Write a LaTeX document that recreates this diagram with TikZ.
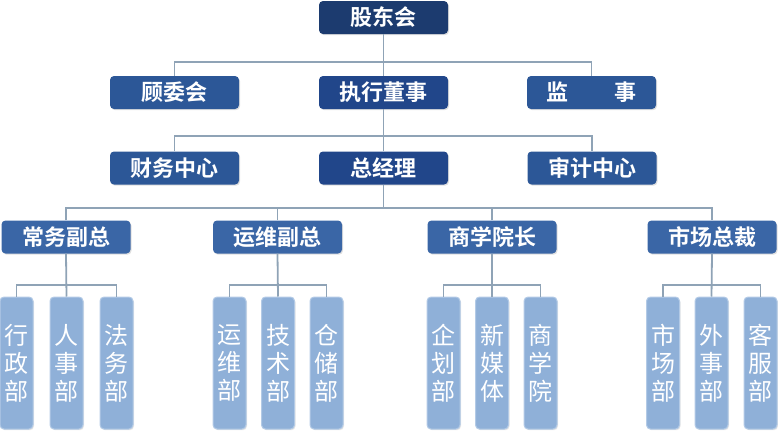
\documentclass[tikz,border=0pt]{standalone}
\usepackage{fontspec}
\newfontfamily\cjk{Noto Sans CJK SC}[BoldFont={Noto Sans CJK SC Bold}]
\usetikzlibrary{shadows}
\definecolor{navyA}{HTML}{1C3B6F}
\definecolor{navyB}{HTML}{21468A}
\definecolor{navyC}{HTML}{2C5797}
\definecolor{navyD}{HTML}{3A66A6}
\definecolor{leaf}{HTML}{8FB0D8}
\definecolor{leafedge}{HTML}{B3CAE6}
\definecolor{conn}{HTML}{8FA3B6}
\tikzset{
  orgbox/.style={rounded corners=4pt, minimum width=129pt, minimum height=33pt,
    inner sep=0pt, text=white, font=\cjk\bfseries\fontsize{22}{24}\selectfont,
    drop shadow={opacity=0.25, shadow xshift=1pt, shadow yshift=-1.2pt}},
  leafbox/.style={rounded corners=4pt, minimum width=33pt, minimum height=132pt,
    inner sep=0pt, fill=leaf, draw=leafedge, line width=1pt, text=white,
    align=center, font=\cjk\fontsize{24}{28}\selectfont,
    drop shadow={opacity=0.2, shadow xshift=1pt, shadow yshift=-1.2pt}},
  link/.style={draw=conn, line width=1.8pt}
}
\begin{document}
\begin{tikzpicture}[x=1pt,y=-1pt]
\useasboundingbox (0,0) rectangle (778,431);
% row 1
\node[orgbox, fill=navyA] (gd) at (383.5,17.5) {股东会};
% row 2
\node[orgbox, fill=navyC] (gw) at (174.5,92.5) {顾委会};
\node[orgbox, fill=navyB] (zx) at (383.5,92.5) {执行董事};
\node[orgbox, fill=navyC] (js) at (591.5,92.5) {监\hspace{46pt}事};
% row 3
\node[orgbox, fill=navyC] (cw) at (174.5,168) {财务中心};
\node[orgbox, fill=navyB] (zj) at (383.5,168) {总经理};
\node[orgbox, fill=navyC] (sj) at (592,168) {审计中心};
% row 4
\node[orgbox, fill=navyD] (cf) at (66,237) {常务副总};
\node[orgbox, fill=navyD] (yf) at (277.5,237) {运维副总};
\node[orgbox, fill=navyD] (sx) at (492,237) {商学院长};
\node[orgbox, fill=navyD] (sc) at (712,237) {市场总裁};
% leaves
\node[leafbox] (l1) at (16.5,363) {行\\政\\部};
\node[leafbox] (l2) at (66.5,363) {人\\事\\部};
\node[leafbox] (l3) at (116.5,363) {法\\务\\部};
\node[leafbox] (l4) at (229.5,363) {运\\维\\部};
\node[leafbox] (l5) at (278,363) {技\\术\\部};
\node[leafbox] (l6) at (326.5,363) {仓\\储\\部};
\node[leafbox] (l7) at (443.5,363) {企\\划\\部};
\node[leafbox] (l8) at (492,363) {新\\媒\\体};
\node[leafbox] (l9) at (540.5,363) {商\\学\\院};
\node[leafbox] (l10) at (663,363) {市\\场\\部};
\node[leafbox] (l11) at (711.5,363) {外\\事\\部};
\node[leafbox] (l12) at (760.5,363) {客\\服\\部};
% connectors
\path[link] (gd.south) -- (zx.north);
\path[link] (gw.north) |- (383.5,62) -| (js.north);
\path[link] (zx.south) -- (zj.north);
\path[link] (cw.north) |- (383.5,136) -| (sj.north);
\path[link] (zj.south) -- (383.5,208);
\path[link] (cf.north) |- (383.5,208) -| (sc.north);
\path[link] (yf.north) -- (277.5,208);
\path[link] (sx.north) -- (492,208);
\path[link] (cf.south) -- (l2.north);
\path[link] (l1.north) |- (66,285) -| (l3.north);
\path[link] (yf.south) -- (l5.north);
\path[link] (l4.north) |- (278,285) -| (l6.north);
\path[link] (sx.south) -- (l8.north);
\path[link] (l7.north) |- (492,285) -| (l9.north);
\path[link] (sc.south) -- (l11.north);
\path[link] (l10.north) |- (712,285) -| (l12.north);
\end{tikzpicture}
\end{document}
